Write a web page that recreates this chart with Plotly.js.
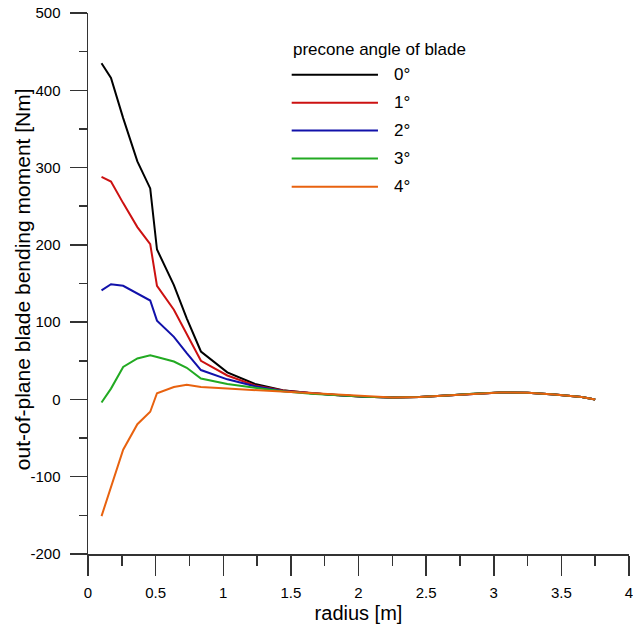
<!DOCTYPE html>
<html>
<head>
<meta charset="utf-8">
<script src="https://cdn.plot.ly/plotly-3.0.1.min.js"></script>
<style>html,body{margin:0;padding:0;background:#fff;}#chart{width:633px;height:625px;}</style>
</head>
<body>
<div id="chart"></div>
<script>
const radius = [0.10, 0.17, 0.26, 0.365, 0.46, 0.51, 0.635, 0.73, 0.835, 1.03, 1.235, 1.44, 1.65, 1.85, 2.05, 2.25, 2.45, 2.65, 2.85, 3.05, 3.25, 3.45, 3.65, 3.75];
const precone0 = [435, 416, 364, 308, 273, 194, 148, 105, 62, 35, 20, 12, 8, 5.5, 3.5, 2.5, 3, 5, 7.5, 9, 8.5, 6.5, 3, 0];
const precone1 = [288, 282, 254, 223, 201, 147, 116, 84, 50, 31, 18, 11.5, 8, 5.5, 3.5, 2.5, 3, 5, 7.5, 9, 8.5, 6.5, 3, 0];
const precone2 = [141, 149, 147, 137, 128, 102, 81, 60, 38, 26, 17, 11, 8, 5.5, 3.5, 2.5, 3, 5, 7.5, 9, 8.5, 6.5, 3, 0];
const precone3 = [-4, 14, 42, 53, 57, 55, 49, 41, 27, 20, 15, 10.5, 7.5, 5.5, 3.5, 2.5, 3, 5, 7.5, 9, 8.5, 6.5, 3, 0];
const precone4 = [-151, -112, -65, -32, -16, 8, 16, 19, 16, 14, 12, 10, 7.5, 5.5, 3.5, 2.5, 3, 5, 7.5, 9, 8.5, 6.5, 3, 0];
const seriesLabels = ['0°', '1°', '2°', '3°', '4°'];
const seriesColors = ['#000000', '#cc1111', '#1111aa', '#22aa22', '#e8620f'];
const xTickVals = [0, 0.5, 1, 1.5, 2, 2.5, 3, 3.5, 4];
const xTickText = ['0', '0.5', '1', '1.5', '2', '2.5', '3', '3.5', '4'];
const yTickVals = [-200, -100, 0, 100, 200, 300, 400, 500];
const yTickText = ['-200', '-100', '0', '100', '200', '300', '400', '500'];
const legendTitle = 'precone angle of blade';
const xTitle = 'radius [m]';
const yTitle = 'out-of-plane blade bending moment [Nm]';

const allSeries = [precone0, precone1, precone2, precone3, precone4];
const traces = allSeries.map((vals, i) => ({
  x: radius, y: vals, type: 'scatter', mode: 'lines', name: seriesLabels[i],
  line: {color: seriesColors[i], width: 2}, showlegend: false, hoverinfo: 'skip'
}));

const font = 'Liberation Sans, Arial, sans-serif';
// manual legend (paper coords)
const legX0 = 0.3765, legX1 = 0.536, legTextX = 0.562;
const legY = [0.886, 0.834, 0.783, 0.731, 0.679];
const shapes = seriesLabels.map((l, i) => ({
  type: 'line', xref: 'paper', yref: 'paper', x0: legX0, x1: legX1, y0: legY[i], y1: legY[i],
  line: {color: seriesColors[i], width: 2}
}));
const annotations = seriesLabels.map((l, i) => ({
  xref: 'paper', yref: 'paper', x: legTextX, y: legY[i], xanchor: 'left', yanchor: 'middle',
  text: l, showarrow: false, font: {family: font, size: 17, color: '#000'}
}));
annotations.push({xref: 'paper', yref: 'paper', x: 0.375, y: 0.932, xanchor: 'left', yanchor: 'middle',
  text: legendTitle, showarrow: false, font: {family: font, size: 17, color: '#000'}});
// y-axis title placed as rotated text
annotations.push({xref: 'paper', yref: 'paper', x: -0.122, y: 0.508, xanchor: 'center', yanchor: 'middle',
  textangle: -90, text: yTitle, showarrow: false, font: {family: font, size: 21, color: '#000'}});

const layout = {
  width: 633, height: 625,
  margin: {l: 88, r: 4, t: 13, b: 71, pad: 0},
  paper_bgcolor: '#fff', plot_bgcolor: '#fff',
  font: {family: font, size: 15, color: '#000'},
  xaxis: {
    range: [0, 4], tickmode: 'array', tickvals: xTickVals, ticktext: xTickText,
    showgrid: false, zeroline: false,
    showline: true, linecolor: '#333', linewidth: 1.5,
    ticks: 'outside', ticklen: 20, tickwidth: 1.5, tickcolor: '#333',
    ticklabelstandoff: 4, ticklabeloverflow: 'allow',
    minor: {dtick: 0.25, tick0: 0, ticks: 'outside', ticklen: 10, tickwidth: 1.5, tickcolor: '#333', showgrid: false},
    tickfont: {family: font, size: 15, color: '#000'},
    title: {text: xTitle, font: {family: font, size: 20, color: '#000'}, standoff: 6}
  },
  yaxis: {
    range: [-200, 500], tickmode: 'array', tickvals: yTickVals, ticktext: yTickText,
    showgrid: false, zeroline: false,
    showline: true, linecolor: '#333', linewidth: 1.5,
    ticks: 'outside', ticklen: 17, tickwidth: 1.5, tickcolor: '#333',
    ticklabelstandoff: 6,
    minor: {dtick: 50, tick0: 0, ticks: 'outside', ticklen: 8, tickwidth: 1.5, tickcolor: '#333', showgrid: false},
    tickfont: {family: font, size: 15, color: '#000'}
  },
  shapes: shapes,
  annotations: annotations,
  showlegend: false
};
Plotly.newPlot('chart', traces, layout, {displayModeBar: false, staticPlot: true});
</script>
</body>
</html>
